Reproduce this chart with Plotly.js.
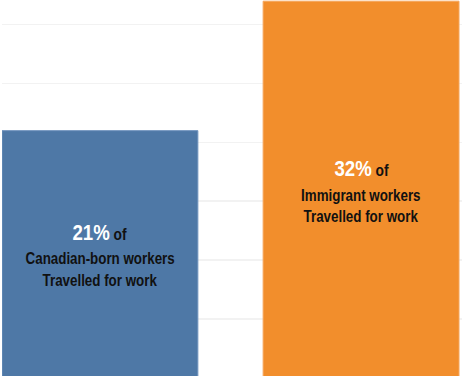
<!DOCTYPE html>
<html>
<head>
<meta charset="utf-8">
<script src="https://cdn.plot.ly/plotly-3.0.1.min.js"></script>
<style>
html,body{margin:0;padding:0;background:#fff;}
#chart{width:465px;height:376px;}
#chart .annotation-text{transform-box:fill-box;transform-origin:center;transform:scaleX(0.81);}
</style>
</head>
<body>
<div id="chart"></div>
<script>
const categories = ["Canadian-born workers", "Immigrant workers"];
const values = [21, 32];
const colors = ["#4e78a6", "#f28e2c"];
const edgeColors = ["#6f93bd", "#f5a65c"];
const pctLabels = ["21%", "32%"];
const line2 = ["Canadian-born workers", "Immigrant workers"];
const line3 = ["Travelled for work", "Travelled for work"];
// vertical placement (pixels from top) of the three text lines per bar
const textTop = [[232, 258, 280], [168, 195, 216]];

const H = 376;
const font = "'Liberation Sans Narrow', 'Arial Narrow', 'Liberation Sans', Arial, sans-serif";

const annotations = [];
categories.forEach((c, i) => {
  annotations.push({
    x: c, xref: 'x', y: 1 - textTop[i][0] / H, yref: 'paper', yanchor: 'middle',
    showarrow: false,
    text: "<b><span style='font-size:23px;color:#ffffff'>" + pctLabels[i] + "</span></b><b> of</b>",
    font: {family: font, size: 17, color: '#111111'}
  });
  annotations.push({
    x: c, xref: 'x', y: 1 - textTop[i][1] / H, yref: 'paper', yanchor: 'middle',
    showarrow: false, text: "<b>" + line2[i] + "</b>",
    font: {family: font, size: 16.5, color: '#111111'}
  });
  annotations.push({
    x: c, xref: 'x', y: 1 - textTop[i][2] / H, yref: 'paper', yanchor: 'middle',
    showarrow: false, text: "<b>" + line3[i] + "</b>",
    font: {family: font, size: 16.5, color: '#111111'}
  });
});

Plotly.newPlot('chart', [{
  type: 'bar',
  x: categories,
  y: values,
  marker: {color: colors, line: {color: edgeColors, width: 1}},
  hoverinfo: 'none'
}], {
  width: 465, height: 376,
  margin: {l: 2, r: 3, t: 0, b: 0, pad: 0},
  paper_bgcolor: '#ffffff', plot_bgcolor: '#ffffff',
  bargap: 0.25,
  showlegend: false,
  xaxis: {range: [-0.375, 1.3865], showticklabels: false, showgrid: false, zeroline: false, showline: false, ticks: ''},
  yaxis: {range: [0.15, 32.1], dtick: 5, tick0: 0, showticklabels: false, showgrid: true, gridcolor: '#f2f2f2', gridwidth: 1.5, zeroline: false, showline: false, ticks: ''},
  annotations: annotations
}, {displayModeBar: false, staticPlot: true});
</script>
</body>
</html>
